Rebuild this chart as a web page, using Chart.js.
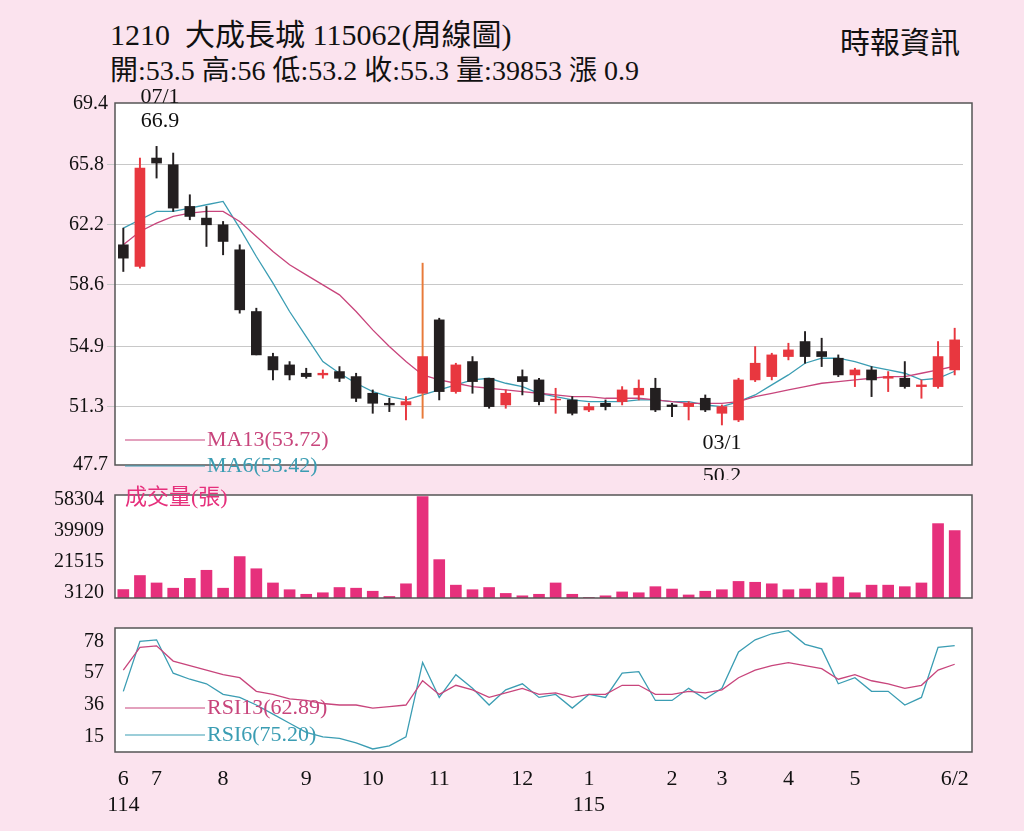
<!DOCTYPE html><html><head><meta charset="utf-8">
<script src="https://cdn.jsdelivr.net/npm/chart.js@4"></script>
<style>
body{margin:0;width:1024px;height:831px;background:#fbe3ee;position:relative;overflow:hidden;font-family:"Liberation Serif","Noto Sans CJK TC",serif}
canvas{position:absolute;left:0}
.t{position:absolute;color:#111;white-space:nowrap}
</style></head><body>
<div class="t" style="left:110px;top:10px;font-size:30px">1210&nbsp; 大成長城 115062(周線圖)</div>
<div class="t" style="left:110px;top:48px;font-size:28px">開:53.5 高:56 低:53.2 收:55.3 量:39853 漲 0.9</div>
<div class="t" style="left:840px;top:18px;font-size:30px">時報資訊</div>
<div style="position:absolute;left:0;top:88px;width:1024px;height:392px"><canvas id="c1"></canvas></div>
<div style="position:absolute;left:0;top:480px;width:1024px;height:133px"><canvas id="c2"></canvas></div>
<div style="position:absolute;left:0;top:613px;width:1024px;height:218px"><canvas id="c3"></canvas></div>
<script>
const weeks=[...Array(51).keys()];
const dateLabels={0:['6','114'],2:'7',6:'8',11:'9',15:'10',19:'11',24:'12',28:['1','115'],33:'2',36:'3',40:'4',44:'5',50:'6/2'};
const open=[61.0,59.7,66.2,65.8,63.3,62.6,62.2,60.7,57.0,54.3,53.8,53.3,53.2,53.4,53.1,52.1,51.5,51.4,52.1,56.5,52.2,54.0,53.0,51.4,53.1,52.9,51.7,51.7,51.1,51.5,51.6,52.0,52.4,51.4,51.3,51.8,50.9,50.5,52.9,53.1,54.3,55.2,54.6,54.2,53.2,53.5,53.0,53.0,52.5,52.5,53.5];
const high=[62.0,66.2,66.9,66.5,64.0,63.3,62.4,61.0,57.2,54.5,54.0,53.6,53.5,53.7,53.3,52.3,51.8,51.9,59.9,56.6,53.9,54.3,53.0,52.3,53.5,53.0,52.4,51.9,51.5,51.7,52.5,52.9,53.0,51.5,51.6,52.0,51.4,53.0,54.9,54.5,55.1,55.8,55.4,54.4,53.6,53.7,53.4,54.0,52.9,55.2,56.0];
const low=[59.4,59.6,65.0,63.0,62.5,60.9,60.4,56.9,54.4,52.9,52.9,53.0,53.0,52.8,51.6,50.9,51.0,50.5,50.6,51.7,52.1,52.1,51.2,51.2,52.0,51.4,50.9,50.8,51.0,51.1,51.4,51.7,51.0,50.7,50.5,51.0,50.2,50.4,52.8,52.9,54.1,53.9,53.7,53.1,52.5,51.9,52.2,52.4,51.8,52.4,53.2];
const close=[60.2,65.6,65.9,63.2,62.7,62.2,61.2,57.1,54.4,53.5,53.2,53.1,53.3,53.0,51.8,51.5,51.4,51.6,54.3,52.2,53.8,52.8,51.3,52.1,52.8,51.6,51.75,50.9,51.3,51.3,52.3,52.4,51.1,51.3,51.5,51.1,51.3,52.9,53.9,54.4,54.7,54.3,54.3,53.2,53.5,52.9,53.1,52.5,52.6,54.3,55.3];
const ma6=[62.0,62.5,63.0,63.0,63.2,63.4,63.6,62.0,60.3,58.7,57.0,55.5,54.0,53.3,52.7,52.2,51.9,51.7,52.0,52.3,52.6,52.9,53.0,52.7,52.5,52.1,51.9,51.7,51.6,51.6,51.6,51.7,51.7,51.6,51.6,51.4,51.3,51.6,52.0,52.6,53.2,53.9,54.2,54.2,54.0,53.7,53.5,53.3,52.9,53.0,53.42];
const ma13=[61.0,61.8,62.3,62.7,62.9,63.0,63.0,62.4,61.5,60.6,59.8,59.2,58.6,58.0,57.0,55.9,54.9,54.0,53.2,52.9,52.7,52.5,52.4,52.3,52.2,52.1,52.0,51.9,51.9,51.8,51.8,51.8,51.7,51.6,51.5,51.5,51.5,51.6,51.9,52.1,52.3,52.5,52.7,52.8,52.9,53.0,53.1,53.1,53.3,53.5,53.72];
const volume=[5000,13300,8900,5800,11600,16400,5800,24500,17300,8900,4900,2200,3100,6200,5800,4000,900,8400,60000,22700,7600,4900,6200,2700,1300,2200,8900,2200,300,1300,3600,3100,6700,5300,1800,4000,4900,9800,9300,8400,4900,5300,8900,12400,3100,7600,7600,6700,8900,44000,39853];
const rsi6=[45,78,79,57,53,50,43,41,36,30,24,18,15,14,11,7,9,15,64,41,56,47,36,46,50,41,43,34,43,41,57,58,39,39,47,40,47,71,79,83,85,76,73,50,54,45,45,36,41,74,75.2];
const rsi13=[59,74,75,65,62,59,56,54,45,43,40,39,37,36,36,34,35,36,52,43,49,46,41,44,47,43,44,41,43,43,49,49,43,43,45,44,46,54,59,62,64,62,60,53,56,52,50,47,49,59,62.89];
const priceTicks=[51.3,54.9,58.6,62.2,65.8];
const volTicks=[3120,21515,39909,58304];
const rsiTicks=[15,36,57,78];

const RED='#e8373f',BLK='#231f20',MA13C='#c8457c',MA6C='#3b9db3',VOLC='#e6307c';
const F='"Liberation Serif","Noto Sans CJK TC",serif';
const up=i=>close[i]>=open[i];
const panel=(extra)=>({id:'panel',beforeDraw(c){const a=c.chartArea,x=c.ctx;x.save();x.fillStyle='#fff';x.fillRect(115,a.top,972-115,a.bottom-a.top);x.restore();},
 afterDraw(c){const a=c.chartArea,x=c.ctx;x.save();x.strokeStyle='#555';x.lineWidth=1.5;x.strokeRect(115,a.top,972-115,a.bottom-a.top);if(extra)extra(c,x);x.restore();}});
function txt(x,s,px,py,col,size,align){x.fillStyle=col;x.font=(size||22)+'px '+F;x.textAlign=align||'left';x.textBaseline='middle';x.fillText(s,px,py);}
function leg(x,y,col,s){x.strokeStyle=col;x.lineWidth=1.2;x.beginPath();x.moveTo(125,y);x.lineTo(205,y);x.stroke();txt(x,s,207,y,col,22);}
const yW=s=>{s.width=115;};
const base={responsive:true,maintainAspectRatio:false,animation:false,plugins:{legend:{display:false},tooltip:{enabled:false}},layout:{autoPadding:false,padding:{left:0,right:61,top:0,bottom:0}}};
const yFont={family:F,size:20},col='#111';

new Chart(document.getElementById('c1'),{data:{labels:weeks,datasets:[
 {type:'line',data:ma13,borderColor:MA13C,borderWidth:1.3,pointRadius:0,order:3},
 {type:'line',data:ma6,borderColor:MA6C,borderWidth:1.3,pointRadius:0,order:3},
 {type:'bar',data:weeks.map(i=>[low[i],high[i]]),backgroundColor:weeks.map(i=>up(i)?(i==18?'#e87a3a':RED):BLK),barThickness:1.3,grouped:false,order:2},
 {type:'bar',data:weeks.map(i=>[open[i],close[i]===open[i]?open[i]+0.08:close[i]]),backgroundColor:weeks.map(i=>up(i)?RED:BLK),barThickness:10,grouped:false,order:1}]},
 options:{...base,scales:{x:{display:false,offset:true,grid:{display:false}},
  y:{min:47.8,max:69.5,afterFit:yW,afterBuildTicks:s=>{s.ticks=priceTicks.map(v=>({value:v}));},ticks:{font:yFont,color:col,callback:v=>v.toFixed(1)},grid:{color:'#c8c8c8'},border:{display:false}}}},
 plugins:[panel((c,x)=>{txt(x,'69.4',108,16,col,20,'right');txt(x,'47.7',108,377,col,20,'right');
  txt(x,'07/1',160,9,col,22,'center');txt(x,'66.9',160,33,col,22,'center');
  txt(x,'03/1',722,355,col,22,'center');txt(x,'50.2',722,388,col,22,'center');
  leg(x,352,MA13C,'MA13(53.72)');leg(x,378,MA6C,'MA6(53.42)');})]});

new Chart(document.getElementById('c2'),{type:'bar',data:{labels:weeks,datasets:[{data:volume,backgroundColor:VOLC,barThickness:11}]},
 options:{...base,scales:{x:{display:false,offset:true},
  y:{min:0,max:60926,afterFit:yW,afterBuildTicks:s=>{s.ticks=volTicks.map(v=>({value:v}));},ticks:{font:yFont,color:col,callback:v=>String(v)},grid:{display:false},border:{display:false}}}},
 plugins:[panel((c,x)=>{txt(x,'成交量(張)',125,18,VOLC,22);})]});

new Chart(document.getElementById('c3'),{type:'line',data:{labels:weeks,datasets:[
 {data:rsi13,borderColor:MA13C,borderWidth:1.3,pointRadius:0},
 {data:rsi6,borderColor:MA6C,borderWidth:1.3,pointRadius:0}]},
 options:{...base,scales:{x:{offset:true,afterFit:s=>{s.height=79;},grid:{display:false},border:{display:false},ticks:{autoSkip:false,maxRotation:0,font:{family:F,size:22},color:col,padding:6,callback:(v,i)=>dateLabels[i]||''}},
  y:{min:5,max:86.8,afterFit:yW,afterBuildTicks:s=>{s.ticks=rsiTicks.map(v=>({value:v}));},ticks:{font:yFont,color:col},grid:{display:false},border:{display:false}}}},
 plugins:[panel((c,x)=>{x.fillStyle='#fff';x.fillRect(120,84,110,42);leg(x,95,MA13C,'RSI13(62.89)');leg(x,122,MA6C,'RSI6(75.20)');})]});
</script></body></html>
